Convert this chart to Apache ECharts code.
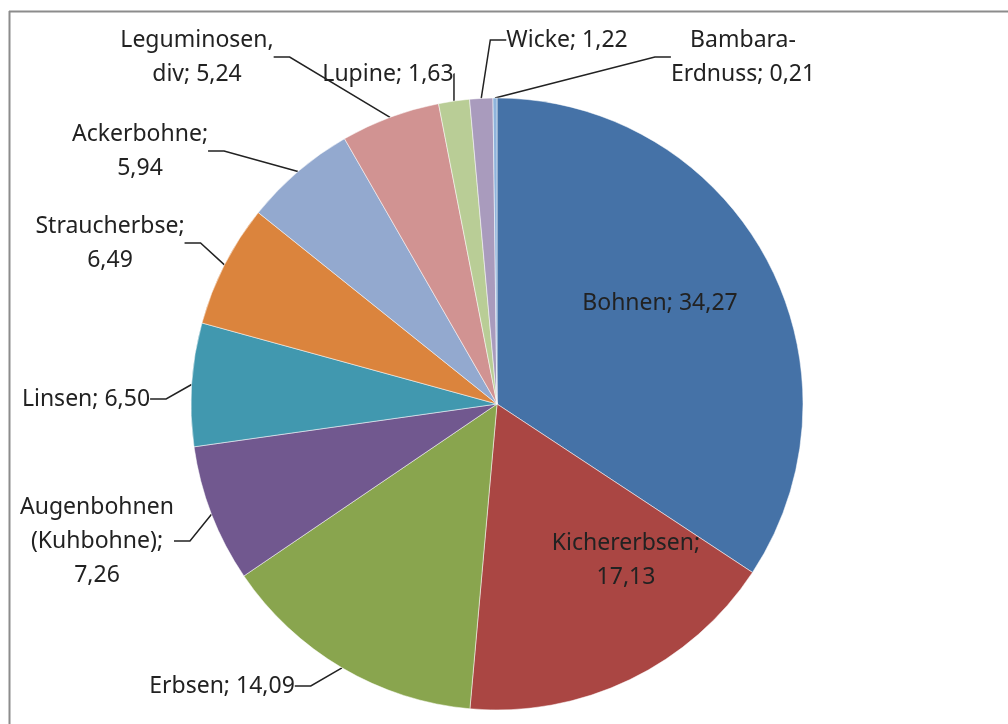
<!DOCTYPE html>
<html>
<head>
<meta charset="utf-8">
<script src="https://cdn.jsdelivr.net/npm/echarts@6/dist/echarts.min.js"></script>
<style>
  html, body { margin: 0; padding: 0; background: #fff; }
  #chart { width: 1008px; height: 724px; }
</style>
</head>
<body>
<div id="chart"></div>
<script>
  // Werte aus dem Diagramm (Anteile in %)
  var categories = ['Bohnen', 'Kichererbsen', 'Erbsen', 'Augenbohnen (Kuhbohne)', 'Linsen',
    'Straucherbse', 'Ackerbohne', 'Leguminosen, div', 'Lupine', 'Wicke', 'Bambara-Erdnuss'];
  var values = [34.27, 17.13, 14.09, 7.26, 6.50, 6.49, 5.94, 5.24, 1.63, 1.22, 0.21];
  var colors = ['#4572a7', '#aa4643', '#89a54e', '#71588f', '#4198af', '#db843d',
    '#93a9cf', '#d19392', '#b9cd96', '#a99bbd', '#8fb4dc'];

  // Beschriftungstext (Zeilenumbrüche wie im Original)
  var labelLines = [
    ['Bohnen; {v}'],
    ['Kichererbsen;', '{v}'],
    ['Erbsen; {v}'],
    ['Augenbohnen', '(Kuhbohne);', '{v}'],
    ['Linsen; {v}'],
    ['Straucherbse;', '{v}'],
    ['Ackerbohne;', '{v}'],
    ['Leguminosen,', 'div; {v}'],
    ['Lupine; {v}'],
    ['Wicke; {v}'],
    ['Bambara-', 'Erdnuss; {v}']
  ];
  // Mittelpunkt der Beschriftungen
  var labelPos = [
    [660, 303], [626, 560], [222, 686], [97, 541], [86, 399], [110, 243],
    [140, 151], [197, 57], [388, 74], [567, 40], [743, 57]
  ];
  var insideCount = 2;

  var myChart = echarts.init(document.getElementById('chart'));

  var data = values.map(function (v, i) {
    var inside = i < insideCount;
    return {
      name: categories[i],
      value: v,
      itemStyle: { color: colors[i] },
      label: { position: inside ? 'inside' : 'outside' },
      labelLine: { show: !inside }
    };
  });

  myChart.setOption({
    animation: false,
    graphic: [
      { type: 'line', shape: { x1: 9, y1: 11.5, x2: 1008, y2: 11.5 }, style: { stroke: '#8c8c8c', lineWidth: 2 } },
      { type: 'line', shape: { x1: 9.5, y1: 11, x2: 9.5, y2: 724 }, style: { stroke: '#8c8c8c', lineWidth: 2 } }
    ],
    series: [{
      type: 'pie',
      center: [497, 404],
      radius: 306,
      startAngle: 90,
      clockwise: true,
      avoidLabelOverlap: false,
      itemStyle: {
        borderColor: 'rgba(255,255,255,0.5)',
        borderWidth: 1
      },
      label: {
        color: '#222',
        fontFamily: 'Noto Sans',
        fontSize: 23,
        lineHeight: 34,
        align: 'center',
        formatter: function (p) {
          var v = p.value.toFixed(2).replace('.', ',');
          return labelLines[p.dataIndex].join('\n').replace('{v}', v);
        }
      },
      labelLine: {
        show: true,
        length: 12,
        length2: 16,
        lineStyle: { color: '#222', width: 1.5 }
      },
      labelLayout: function (params) {
        var p = labelPos[params.dataIndex];
        return {
          x: p[0],
          y: p[1],
          align: 'center',
          verticalAlign: 'middle',
          hideOverlap: false,
          moveOverlap: null
        };
      },
      data: data
    }]
  });

  window.addEventListener('resize', function () {
    myChart.resize();
  });
</script>
</body>
</html>
